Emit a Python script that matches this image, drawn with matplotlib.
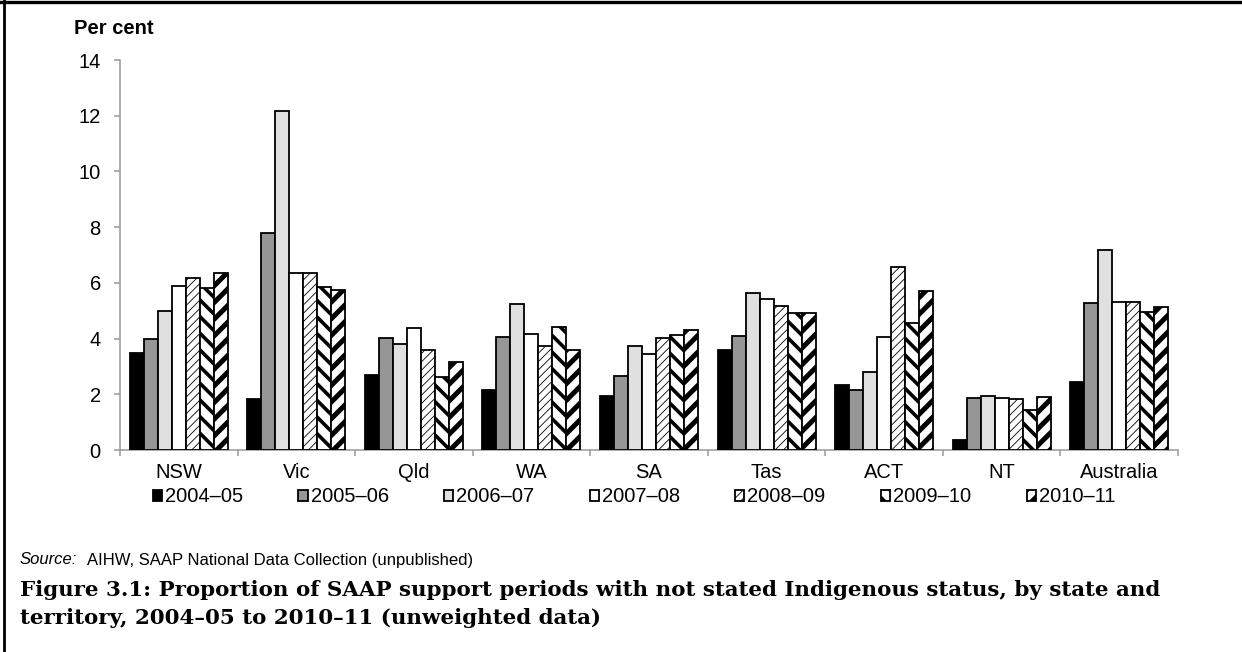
import numpy as np
import matplotlib
matplotlib.use("Agg")
import matplotlib.pyplot as plt
from matplotlib.lines import Line2D

plt.rcParams['font.family'] = ['Liberation Sans', 'DejaVu Sans']

# data
regions = ['NSW', 'Vic', 'Qld', 'WA', 'SA', 'Tas', 'ACT', 'NT', 'Australia']
years = ['2004–05', '2005–06', '2006–07', '2007–08', '2008–09', '2009–10', '2010–11']

y0405 = [3.49, 1.82, 2.68, 2.16, 1.95, 3.58, 2.33, 0.37, 2.44]
y0506 = [4.00, 7.78, 4.03, 4.07, 2.67, 4.10, 2.15, 1.87, 5.29]
y0607 = [4.99, 12.17, 3.80, 5.23, 3.72, 5.64, 2.81, 1.94, 7.19]
y0708 = [5.90, 6.36, 4.38, 4.16, 3.46, 5.41, 4.07, 1.87, 5.32]
y0809 = [6.18, 6.36, 3.60, 3.73, 4.03, 5.18, 6.57, 1.83, 5.30]
y0910 = [5.80, 5.86, 2.61, 4.40, 4.14, 4.92, 4.56, 1.45, 4.95]
y1011 = [6.36, 5.74, 3.17, 3.60, 4.30, 4.92, 5.72, 1.91, 5.13]

series = [y0405, y0506, y0607, y0708, y0809, y0910, y1011]

# fill, hatch, hatch linewidth
styles = [
    ('black', None, 1.0),
    ('#969696', None, 1.0),
    ('#e0e0e0', None, 1.0),
    ('white', None, 1.0),
    ('white', '////', 0.6),
    ('white', '\\\\', 2.6),
    ('white', '//', 3.6),
]


def set_hlw(patch, lw):
    if hasattr(patch, 'set_hatch_linewidth'):
        patch.set_hatch_linewidth(lw)


W, H = 1242, 652
fig = plt.figure(figsize=(W / 100, H / 100), dpi=100)
ax = fig.add_axes([120 / W, 1 - 450 / H, (1178 - 120) / W, (450 - 60) / H])

x = np.arange(len(regions))
w = 0.119
bars = []
for i, (vals, (fc, hatch, hlw)) in enumerate(zip(series, styles)):
    plt.rcParams['hatch.linewidth'] = hlw
    b = ax.bar(x + (i - 3) * w, vals, w, color=fc, edgecolor='black',
               linewidth=1.3, hatch=hatch, label=years[i], zorder=3)
    for p in b:
        set_hlw(p, hlw)
    bars.append(b)

ax.set_xlim(-0.5, len(regions) - 0.5)
ax.set_ylim(0, 14)
ax.set_yticks(range(0, 15, 2))

# category boundary ticks + centred labels
ax.set_xticks(np.arange(len(regions) + 1) - 0.5)
ax.set_xticklabels([])
ax.set_xticks(x, minor=True)
ax.set_xticklabels(regions, minor=True)
ax.tick_params(axis='x', which='major', length=4.5, width=1.1, color='#999999', direction='out')
ax.tick_params(axis='x', which='minor', length=0, pad=9, labelsize=14.5)
ax.tick_params(axis='y', length=4.3, width=1.1, color='#999999', pad=9.5, labelsize=14.5)

for s in ['top', 'right']:
    ax.spines[s].set_visible(False)
for s in ['left', 'bottom']:
    ax.spines[s].set_color('#999999')
    ax.spines[s].set_linewidth(1.1)

fig.text(74 / W, 1 - 29 / H, 'Per cent', fontsize=14.5, fontweight='bold', va='center', ha='left')

leg = fig.legend(handles=bars, labels=years, ncol=7, loc='center',
                 bbox_to_anchor=(634 / W, 1 - 497 / H), frameon=False,
                 fontsize=14.5, handlelength=0.45, handleheight=0.45,
                 handletextpad=0.15, columnspacing=2.75, borderpad=0)
for p, (fc, hatch, hlw) in zip(leg.get_patches(), styles):
    set_hlw(p, hlw)
plt.rcParams['hatch.linewidth'] = 1.0

fig.text(20 / W, 1 - 560 / H, 'Source:', fontsize=12, fontstyle='italic', va='center', ha='left')
fig.text(87 / W, 1 - 560 / H, 'AIHW, SAAP National Data Collection (unpublished)',
         fontsize=12, va='center', ha='left')

cap_font = ['DejaVu Serif']
fig.text(20 / W, 1 - 590 / H,
         'Figure 3.1: Proportion of SAAP support periods with not stated Indigenous status, by state and',
         fontsize=15.4, fontweight='bold', family=cap_font, va='center', ha='left')
fig.text(20 / W, 1 - 618 / H,
         'territory, 2004–05 to 2010–11 (unweighted data)',
         fontsize=15.4, fontweight='bold', family=cap_font, va='center', ha='left')

# outer frame (left and top edges only)
fig.add_artist(Line2D([4 / W, 4 / W], [0, 1], transform=fig.transFigure, color='black', linewidth=2))
fig.add_artist(Line2D([0, 1], [1 - 1.7 / H, 1 - 1.7 / H], transform=fig.transFigure, color='black', linewidth=2.4))

fig.savefig('out.png', dpi=100)
